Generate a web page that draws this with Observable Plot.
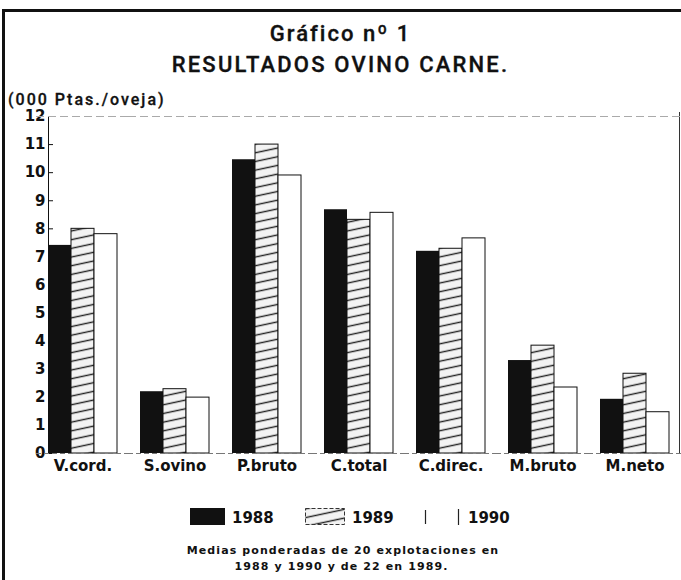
<!DOCTYPE html>
<html><head><meta charset="utf-8">
<script src="https://cdn.jsdelivr.net/npm/d3@7"></script>
<script src="https://cdn.jsdelivr.net/npm/@observablehq/plot@0.6"></script>
<style>
body{margin:0;background:#fff;}
#page{position:relative;width:681px;height:580px;overflow:hidden;background:#fff;}
.t{position:absolute;white-space:nowrap;color:#111;line-height:1;}
#chart{position:absolute;left:0;top:100px;}
</style></head><body>
<svg width="0" height="0" style="position:absolute">
<defs>
<pattern id="hatch" patternUnits="userSpaceOnUse" width="40" height="8.5" patternTransform="rotate(-12)">
<rect width="40" height="8.5" fill="#f3f3f3"/>
<line x1="0" y1="4.25" x2="40" y2="4.25" stroke="#222" stroke-width="1.2"/>
</pattern>
</defs></svg>
<div id="page">
  <div style="position:absolute;left:2px;top:9px;width:681px;height:0;border-top:3px solid #111;"></div>
  <div style="position:absolute;left:2px;top:9px;width:0;height:580px;border-left:3px solid #111;"></div>
  <div style="position:absolute;left:679px;top:112px;width:0;height:342px;border-left:1px solid #333;"></div>
  <div class="t" id="t1" style="left:0;width:681px;text-align:center;top:23px;font-family:Roboto,'Liberation Sans',sans-serif;font-weight:500;font-size:22px;letter-spacing:2px;-webkit-text-stroke:0.35px #111;">Gráfico nº 1</div>
  <div class="t" id="t2" style="left:0;width:681px;text-align:center;top:54px;font-family:Roboto,'Liberation Sans',sans-serif;font-weight:500;font-size:22px;letter-spacing:2.2px;-webkit-text-stroke:0.35px #111;">RESULTADOS OVINO CARNE.</div>
  <div class="t" id="unit" style="left:8px;top:92px;font-family:Roboto,'Liberation Sans',sans-serif;font-weight:500;font-size:16px;letter-spacing:2px;-webkit-text-stroke:0.3px #111;">(000 Ptas./oveja)</div>
  <div id="chart"></div>
  <svg id="legend" width="681" height="40" style="position:absolute;left:0;top:500px;font-family:'DejaVu Sans',sans-serif;font-weight:bold;font-size:15px;">
    <rect x="190" y="8" width="35" height="17" fill="#111"/>
    <text x="232" y="23" fill="#111">1988</text>
    <rect x="305.5" y="8.5" width="39" height="16" fill="url(#hatch)" stroke="#333" stroke-dasharray="4,2"/>
    <text x="352" y="23" fill="#111">1989</text>
    <line x1="425.5" y1="10" x2="425.5" y2="24" stroke="#222" stroke-width="1.2"/>
    <line x1="458.5" y1="9" x2="458.5" y2="25" stroke="#222" stroke-width="1.2"/>
    <text x="468" y="23" fill="#111">1990</text>
  </svg>
  <div class="t" style="left:0;width:686px;text-align:center;top:545px;font-family:'DejaVu Sans',sans-serif;font-weight:bold;font-size:11px;letter-spacing:1.1px;">Medias ponderadas de 20 explotaciones en</div>
  <div class="t" style="left:0;width:683px;text-align:center;top:561px;font-family:'DejaVu Sans',sans-serif;font-weight:bold;font-size:11px;letter-spacing:1.1px;">1988 y 1990 y de 22 en 1989.</div>
</div>
<script>
const categories = ["V.cord.", "S.ovino", "P.bruto", "C.total", "C.direc.", "M.bruto", "M.neto"];
const years = ["1988", "1989", "1990"];
const v1988 = [7.41, 2.20, 10.46, 8.68, 7.20, 3.31, 1.93];
const v1989 = [8.00, 2.29, 11.00, 8.32, 7.29, 3.84, 2.84];
const v1990 = [7.81, 1.99, 9.90, 8.57, 7.66, 2.35, 1.47];
const yTicks = [0,1,2,3,4,5,6,7,8,9,10,11,12];

const series = {"1988": v1988, "1989": v1989, "1990": v1990};
const rows = categories.flatMap((c, i) => years.map(y => ({cat: c, year: y, value: series[y][i]})));
const fills = {"1988": "#111", "1989": "url(#hatch)", "1990": "white"};

const plot = Plot.plot({
  width: 681, height: 385,
  marginLeft: 35, marginRight: 0, marginTop: 16, marginBottom: 32,
  style: {background: "transparent", fontFamily: "'DejaVu Sans', sans-serif", fontSize: "15px", fontWeight: "bold", color: "#111"},
  fx: {domain: categories, paddingInner: 0.25, paddingOuter: 0.13, label: null, tickSize: 0, tickPadding: 7, axis: "bottom"},
  x: {domain: years, padding: 0, axis: null},
  y: {domain: [0, 12], ticks: yTicks, tickSize: -5, tickPadding: 8, label: null, line: true},
  marks: [
    Plot.ruleY([12], {stroke: "#aaa", strokeDasharray: "8,4", insetLeft: -12, insetRight: -12}),
    ...years.map(yr => Plot.barY(rows.filter(d => d.year === yr), {
      fx: "cat", x: "year", y: "value", fill: fills[yr], stroke: "#111", strokeWidth: yr === "1988" ? 0 : 1
    })),
    Plot.ruleY([0], {stroke: "#777", strokeDasharray: "5,3", insetLeft: -12, insetRight: -12})
  ]
});
document.getElementById("chart").appendChild(plot);
</script>
</body></html>
